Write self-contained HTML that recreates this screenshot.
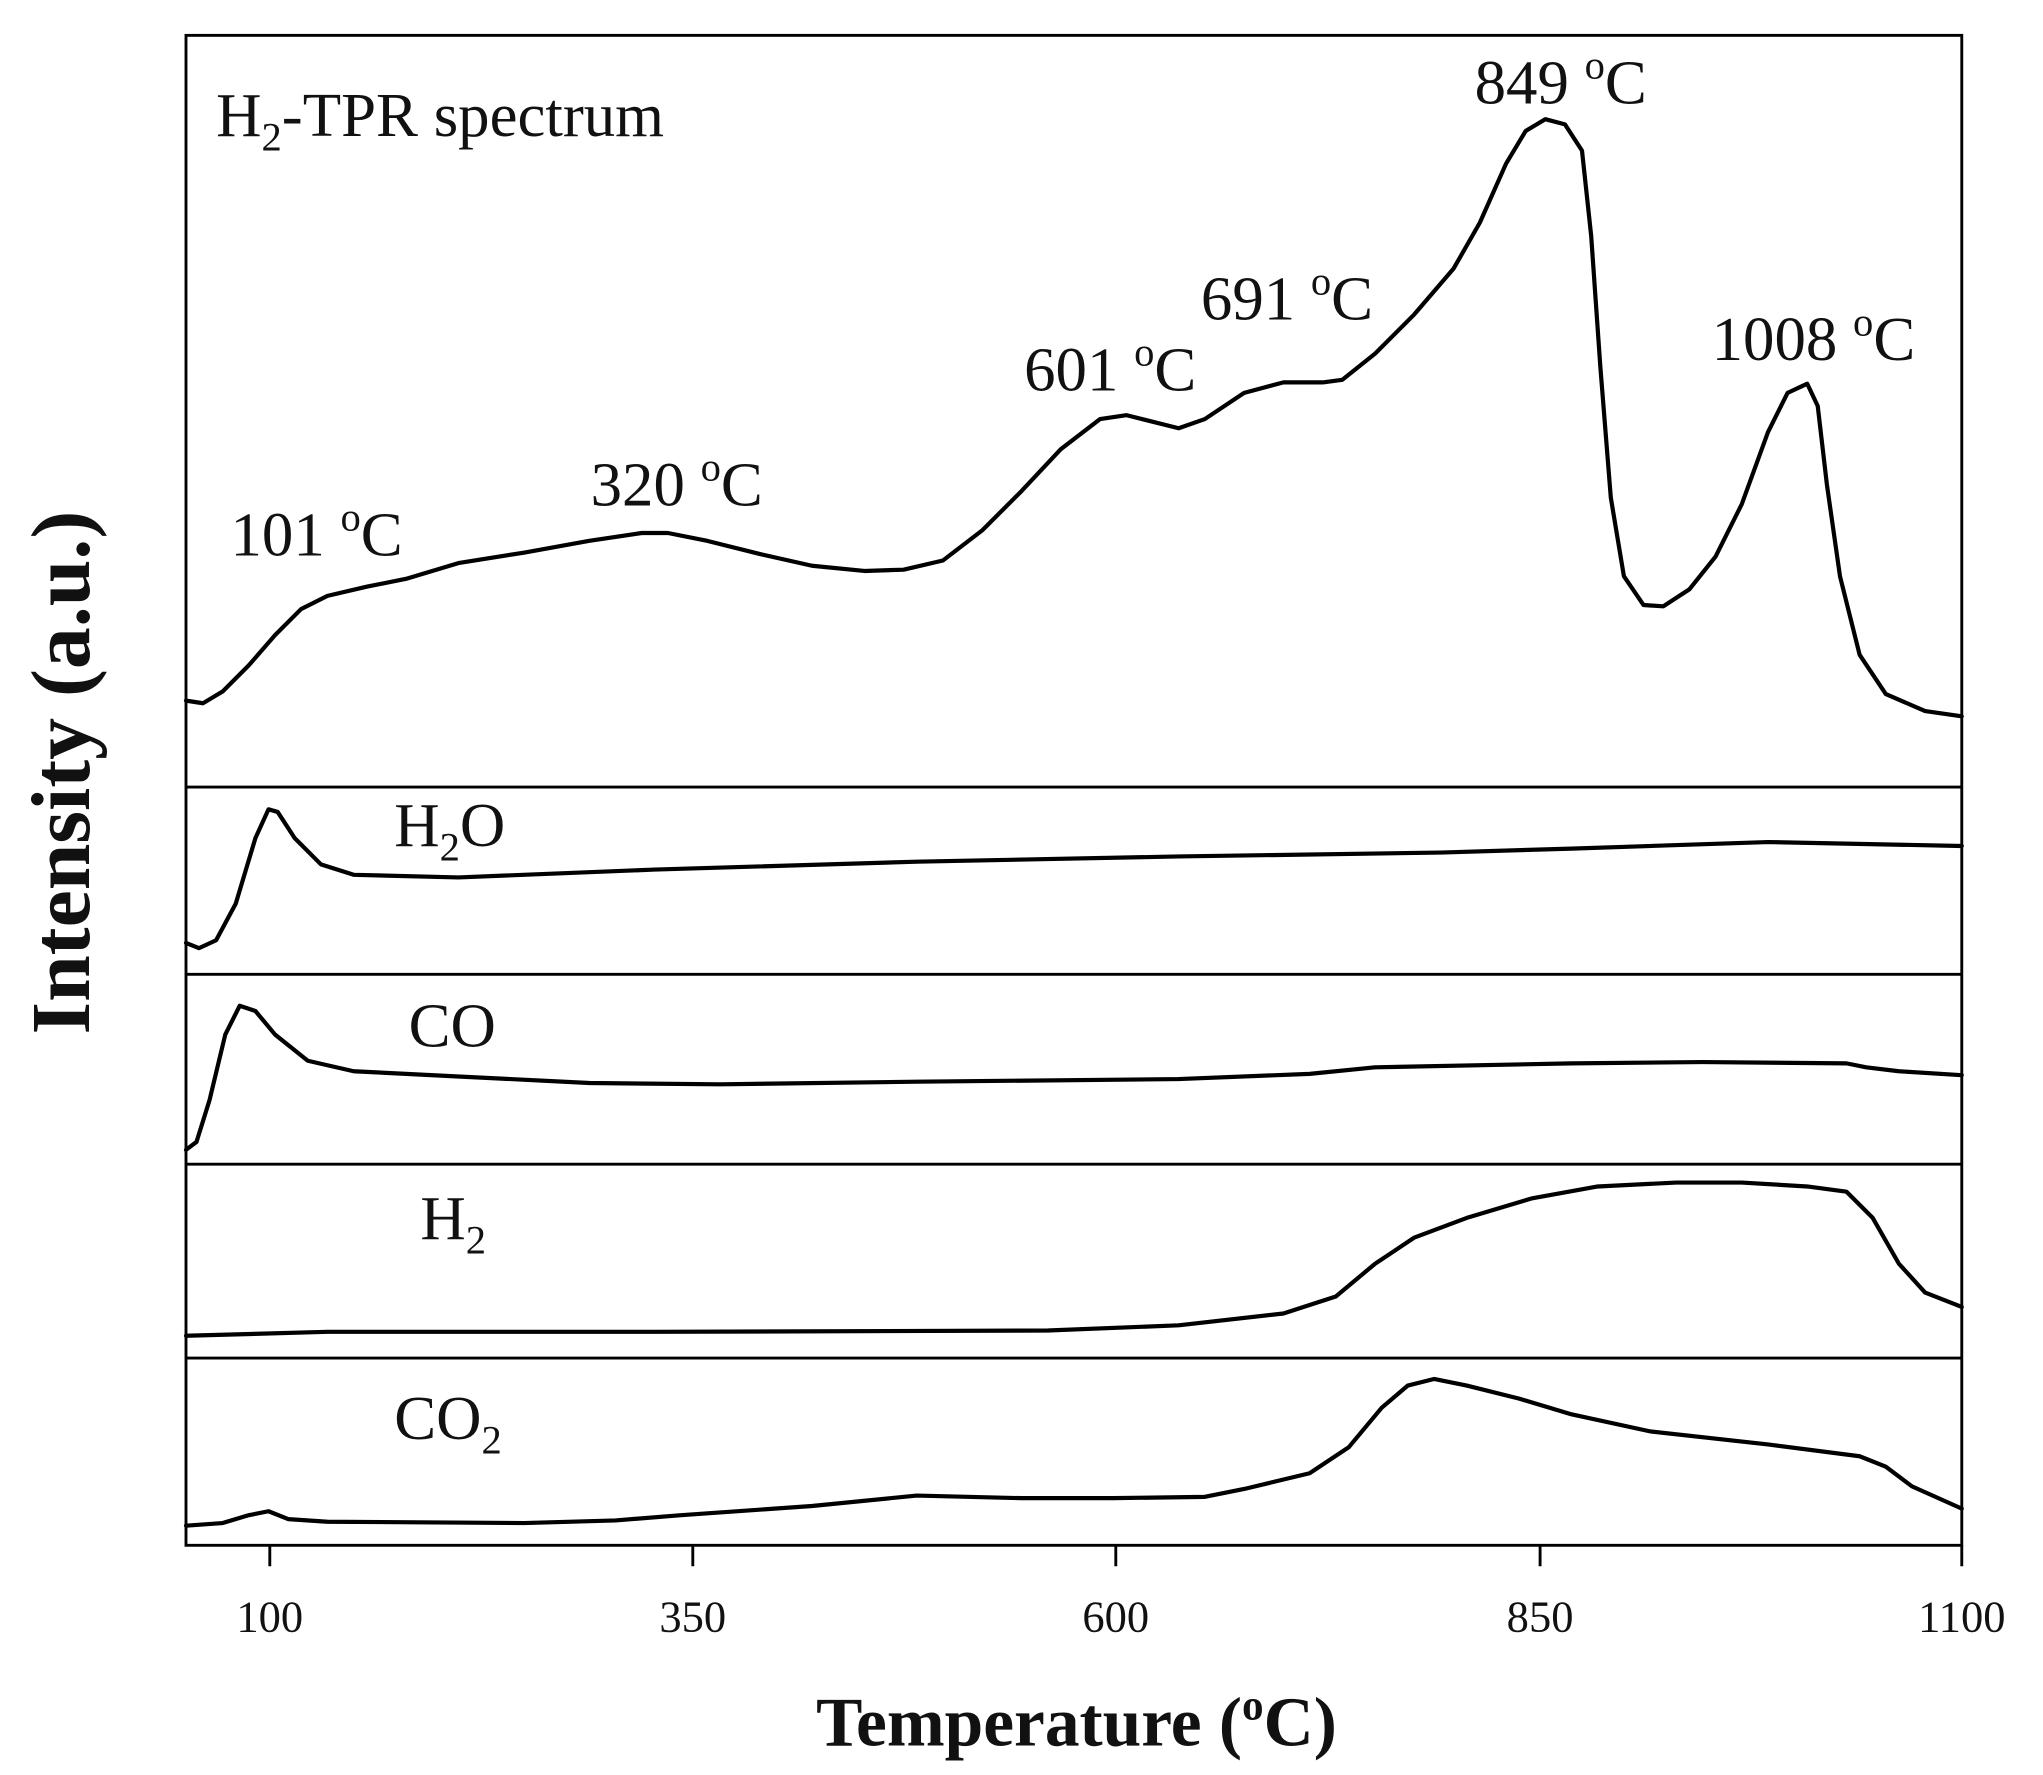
<!DOCTYPE html>
<html><head><meta charset="utf-8"><style>
html,body{margin:0;padding:0;background:#fff;}
svg{display:block;}
text{font-family:"Liberation Serif",serif;fill:#111;}
</style></head><body>
<svg width="2043" height="1775" viewBox="0 0 1560 1355.4" xmlns="http://www.w3.org/2000/svg">
<rect width="1560" height="1356" fill="#fff"/>
<g fill="none" stroke="#000" stroke-width="2.2">
<rect x="142" y="27" width="1356" height="1153"/>
<line x1="142" y1="601" x2="1498" y2="601"/>
<line x1="142" y1="744" x2="1498" y2="744"/>
<line x1="142" y1="889" x2="1498" y2="889"/>
<line x1="142" y1="1037" x2="1498" y2="1037"/>
<line x1="206" y1="1180" x2="206" y2="1196"/>
<line x1="529" y1="1180" x2="529" y2="1196"/>
<line x1="852" y1="1180" x2="852" y2="1196"/>
<line x1="1176" y1="1180" x2="1176" y2="1196"/>
<line x1="1498" y1="1180" x2="1498" y2="1196"/>
</g>
<g fill="none" stroke="#000" stroke-width="3.2" stroke-linejoin="round" stroke-linecap="round">
<polyline points="142,535 155,537 170,528 190,508 210,485 230,465 250,455 280,448 310,442 350,430 400,422 450,413 490,407 510,407 540,413 580,423 620,432 660,436 690,435 720,428 750,405 780,375 810,343 840,320 860,317 880,322 900,327 920,320 950,300 980,292 1010,292 1025,290 1050,270 1080,240 1110,205 1130,170 1150,125 1165,100 1180,91 1195,95 1208,115 1215,180 1222,280 1230,380 1240,440 1255,462 1270,463 1290,450 1310,425 1330,385 1350,330 1365,300 1380,293 1388,310 1395,370 1405,440 1420,500 1440,530 1470,543 1498,547"/>
<polyline points="142,720 152,724 165,718 180,690 195,640 205,618 212,620 225,640 245,660 270,668 350,670 500,664 700,658 900,654 1100,651 1200,648 1350,643 1498,646"/>
<polyline points="142,878 150,872 160,840 172,790 183,768 195,772 210,790 235,810 270,818 350,822 450,827 550,828 700,826 900,824 1000,820 1050,815 1200,812 1300,811 1410,812 1425,815 1450,818 1498,821"/>
<polyline points="142,1020 250,1017 500,1017 800,1016 900,1012 980,1003 1020,990 1050,965 1080,945 1120,930 1170,915 1220,906 1280,903 1330,903 1380,906 1410,910 1430,930 1450,965 1470,987 1498,998"/>
<polyline points="142,1165 170,1163 190,1157 205,1154 220,1160 250,1162 400,1163 470,1161 520,1157 620,1150 700,1142 780,1144 850,1144 920,1143 950,1137 1000,1125 1030,1105 1055,1075 1075,1058 1095,1053 1120,1058 1160,1068 1200,1080 1260,1093 1350,1103 1420,1112 1440,1120 1460,1135 1498,1152"/>
</g>
<g font-size="48">
<text x="165" y="104">H<tspan font-size="31" dy="11">2</tspan><tspan dy="-11">-TPR spectrum</tspan></text>
<text x="176" y="424">101 <tspan font-size="31" dy="-19">o</tspan><tspan dy="19">C</tspan></text>
<text x="451" y="386">320 <tspan font-size="31" dy="-19">o</tspan><tspan dy="19">C</tspan></text>
<text x="782" y="298">601 <tspan font-size="31" dy="-19">o</tspan><tspan dy="19">C</tspan></text>
<text x="917" y="244">691 <tspan font-size="31" dy="-19">o</tspan><tspan dy="19">C</tspan></text>
<text x="1126" y="79">849 <tspan font-size="31" dy="-19">o</tspan><tspan dy="19">C</tspan></text>
<text x="1307" y="275">1008 <tspan font-size="31" dy="-19">o</tspan><tspan dy="19">C</tspan></text>
<text x="301" y="646">H<tspan font-size="31" dy="11">2</tspan><tspan dy="-11">O</tspan></text>
<text x="312" y="799">CO</text>
<text x="321" y="946">H<tspan font-size="31" dy="11">2</tspan></text>
<text x="301" y="1099">CO<tspan font-size="31" dy="11">2</tspan></text>
</g>
<g font-size="34" text-anchor="middle">
<text x="206" y="1246">100</text>
<text x="529" y="1246">350</text>
<text x="852" y="1246">600</text>
<text x="1176" y="1246">850</text>
<text x="1498" y="1246">1100</text>
</g>
<text x="822" y="1333" font-size="53" font-weight="bold" text-anchor="middle">Temperature (<tspan font-size="33" dy="-20">o</tspan><tspan dy="20">C)</tspan></text>
<text transform="translate(68,590) rotate(-90)" font-size="64" font-weight="bold" text-anchor="middle">Intensity (a.u.)</text>
</svg>
</body></html>
